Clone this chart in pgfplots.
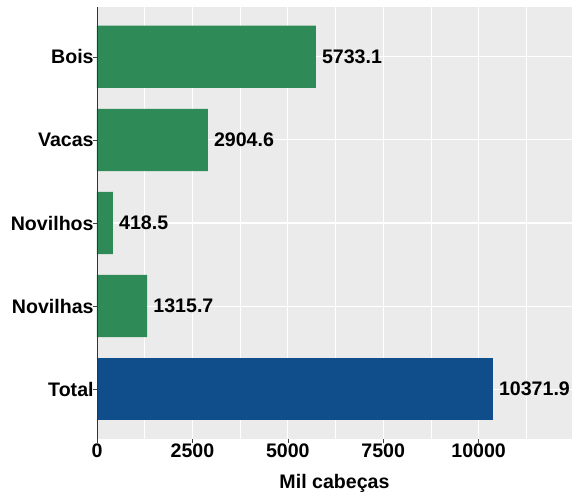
\documentclass[border=0pt]{standalone}
\usepackage{fontspec}
\setmainfont{Liberation Sans}
\usepackage{pgfplots}
\pgfplotsset{compat=1.18}
\definecolor{panel}{HTML}{EBEBEB}
\definecolor{bargreen}{HTML}{2E8B57}
\definecolor{barblue}{HTML}{104E8B}
\newcommand{\lblfont}{\fontsize{19.6bp}{22bp}\selectfont\bfseries}
\begin{document}
\begin{tikzpicture}
\begin{axis}[name=ax, scale only axis, width=475bp, height=432bp,
  xmin=0, xmax=12446, ymin=-0.6, ymax=4.6,
  axis background/.style={fill=panel},
  axis line style={draw=none},
  scaled x ticks=false,
  xtick={0,2500,5000,7500,10000},
  minor xtick={1250,3750,6250,8750,11250},
  ytick={0,1,2,3,4},
  yticklabels={Total,Novilhas,Novilhos,Vacas,Bois},
  xmajorgrids, xminorgrids, ymajorgrids,
  major grid style={white, line width=1.1bp},
  minor grid style={white, line width=0.55bp},
  tick align=outside, major tick length=3.7bp, minor tick length=0pt,
  xtick pos=bottom, ytick pos=left,
  tick style={color=black!75, line width=0.6bp},
  /pgf/number format/assume math mode=true,
  /pgf/number format/1000 sep={},
  xticklabel style={font=\lblfont, inner sep=1bp, text=black},
  yticklabel style={font=\lblfont, inner sep=0pt, anchor=east, xshift=0.5bp, text=black},
  xlabel={Mil cabeças},
  xlabel style={font=\lblfont, at={(axis description cs:0.5,0)}, anchor=base, yshift=-49bp},
  xbar, bar width=0.75, bar shift=0pt,
  point meta=explicit symbolic,
  nodes near coords,
  nodes near coords style={anchor=west, inner sep=0pt, xshift=6bp, font=\lblfont, text=black},
]
\addplot[fill=bargreen, draw=none] coordinates {
  (1315.7,1) [1315.7]
  (418.5,2) [418.5]
  (2904.6,3) [2904.6]
  (5733.1,4) [5733.1]
};
\addplot[fill=barblue, draw=none] coordinates {
  (10371.9,0) [10371.9]
};
\draw[black!80, line width=0.6bp] (rel axis cs:0,0) -- (rel axis cs:0,1);
\end{axis}
\pgfresetboundingbox
\path (ax.south west) ++(-97bp,-53bp) coordinate (bl);
\path (ax.north east) ++(1bp,7bp) coordinate (tr);
\path (bl) rectangle (tr);
\end{tikzpicture}
\end{document}
